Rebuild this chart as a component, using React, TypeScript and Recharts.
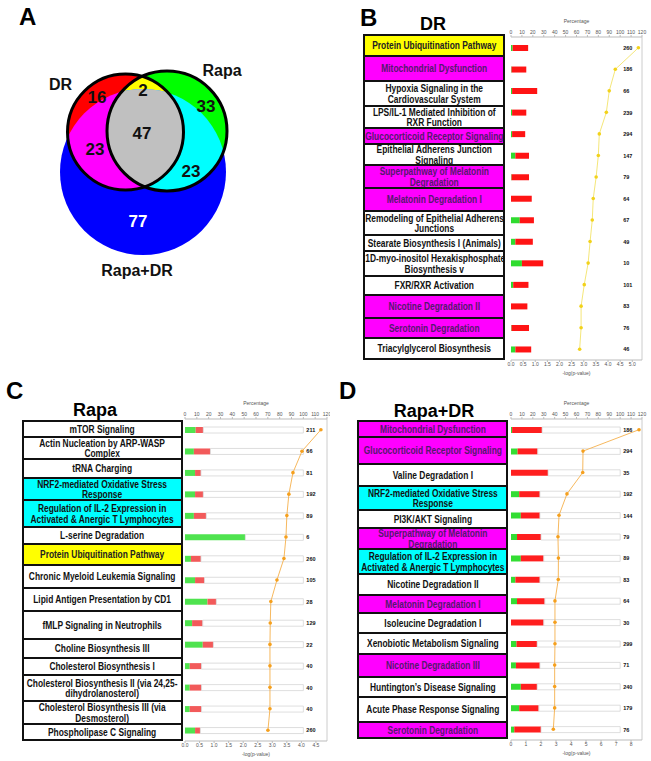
import React from "react";
import {
  Bar,
  ComposedChart,
  LabelList,
  Line,
  ReferenceLine,
  Scatter,
  ScatterChart,
  XAxis,
  YAxis
} from "recharts";

// ---------- A: Venn ----------
const vennSetIds = ["RapaDR", "DR", "Rapa"];
const vennSetLabels = ["Rapa+DR", "DR", "Rapa"];
const vennSetX = [143, 125.5, 167];
const vennSetY = [172, 132, 131];
const vennSetR = [83, 58, 60];
const vennSetLabelPos = [[137, 270], [60.5, 84], [222, 70]];

const vennRegionNames = ["Rapa+DR only", "DR only", "Rapa only", "DR & Rapa", "DR & Rapa+DR", "Rapa & Rapa+DR", "all three"];
const vennRegionCounts = [77, 16, 33, 2, 23, 23, 47];
const vennRegionBase = ["RapaDR", "DR", "Rapa", "DR", "DR", "Rapa", "DR"];
const vennRegionClip = [[], [], [], ["Rapa"], ["RapaDR"], ["RapaDR"], ["Rapa", "RapaDR"]];
const vennRegionLabelPos = [[138, 221], [97, 97], [206, 106], [143, 90], [95, 149], [191, 171], [142, 133]];

// ---------- B: DR ----------
const drNames = [
  "Protein Ubiquitination Pathway",
  "Mitochondrial Dysfunction",
  "Hypoxia Signaling in the\nCardiovascular System",
  "LPS/IL-1 Mediated Inhibition of\nRXR Function",
  "Glucocorticoid Receptor Signaling",
  "Epithelial Adherens Junction\nSignaling",
  "Superpathway of Melatonin\nDegradation",
  "Melatonin Degradation I",
  "Remodeling of Epithelial Adherens\nJunctions",
  "Stearate Biosynthesis I (Animals)",
  "1D-myo-inositol Hexakisphosphate\nBiosynthesis v",
  "FXR/RXR Activation",
  "Nicotine Degradation II",
  "Serotonin Degradation",
  "Triacylglycerol Biosynthesis"
];
const drShared = ["DR+Rapa", "DR+Combo", "", "", "DR+Combo", "", "DR+Combo", "DR+Combo", "", "", "", "", "DR+Combo", "DR+Combo", ""];
const drUp = [1.5, 0.5, 1, 1, 1, 4, 0.5, 0, 8, 4, 10, 2, 0, 0.5, 4];
const drDown = [14.2, 13.5, 23, 13, 12, 12.5, 16, 19, 13, 16, 19.5, 14, 15, 16, 14.5];
const drCount = [260, 186, 66, 239, 294, 147, 79, 64, 67, 49, 10, 101, 83, 76, 46];
const drLogP = [5.25, 4.3, 4.05, 3.93, 3.64, 3.6, 3.51, 3.39, 3.35, 3.26, 3.18, 3.02, 2.89, 2.89, 2.83];

// ---------- C: Rapa ----------
const rapaNames = [
  "mTOR Signaling",
  "Actin Nucleation by ARP-WASP\nComplex",
  "tRNA Charging",
  "NRF2-mediated Oxidative Stress\nResponse",
  "Regulation of IL-2 Expression in\nActivated & Anergic T Lymphocytes",
  "L-serine Degradation",
  "Protein Ubiquitination Pathway",
  "Chronic Myeloid Leukemia Signaling",
  "Lipid Antigen Presentation by CD1",
  "fMLP Signaling in Neutrophils",
  "Choline Biosynthesis III",
  "Cholesterol Biosynthesis I",
  "Cholesterol Biosynthesis II (via 24,25-\ndihydrolanosterol)",
  "Cholesterol Biosynthesis III (via\nDesmosterol)",
  "Phospholipase C Signaling"
];
const rapaShared = ["", "", "", "Rapa+Combo", "Rapa+Combo", "", "DR+Rapa", "", "", "", "", "", "", "", ""];
const rapaUp = [9, 7.5, 8.5, 8.5, 7.5, 51, 5, 8.5, 19, 6, 15, 4, 4, 4, 8.5];
const rapaDown = [6.5, 14, 5, 7, 10.5, 0, 8.5, 8, 7.5, 9, 9, 10, 10, 10, 4.5];
const rapaCount = [211, 66, 81, 192, 89, 6, 260, 105, 28, 129, 22, 40, 40, 40, 260];
const rapaLogP = [4.67, 4.02, 3.71, 3.57, 3.5, 3.47, 3.4, 3.16, 2.95, 2.93, 2.92, 2.92, 2.92, 2.92, 2.85];

// ---------- D: Rapa+DR ----------
const comboNames = [
  "Mitochondrial Dysfunction",
  "Glucocorticoid Receptor Signaling",
  "Valine Degradation I",
  "NRF2-mediated Oxidative Stress\nResponse",
  "PI3K/AKT Signaling",
  "Superpathway of Melatonin\nDegradation",
  "Regulation of IL-2 Expression in\nActivated & Anergic T Lymphocytes",
  "Nicotine Degradation II",
  "Melatonin Degradation I",
  "Isoleucine Degradation I",
  "Xenobiotic Metabolism Signaling",
  "Nicotine Degradation III",
  "Huntington’s Disease Signaling",
  "Acute Phase Response Signaling",
  "Serotonin Degradation"
];
const comboShared = ["DR+Combo", "DR+Combo", "", "Rapa+Combo", "", "DR+Combo", "Rapa+Combo", "", "DR+Combo", "", "", "DR+Combo", "", "", "DR+Combo"];
const comboUp = [1, 6, 0, 7.5, 9, 5.5, 9, 4, 5.5, 0, 5, 4.5, 9, 7.5, 3];
const comboDown = [27.5, 18.5, 34, 19, 17.5, 22, 21, 22.5, 25.5, 30, 19, 22, 15, 18, 24.5];
const comboCount = [186, 294, 35, 192, 144, 79, 89, 83, 64, 30, 299, 71, 240, 179, 76];
const comboLogP = [8.53, 4.8, 4.78, 3.73, 3.2, 3.13, 3.16, 3.15, 2.93, 2.93, 2.93, 2.91, 2.91, 2.91, 2.82];

const pctTicks = [0, 10, 20, 30, 40, 50, 60, 70, 80, 90, 100, 110, 120];

// ---------- styles ----------
const FONT = "'Liberation Sans', Arial, sans-serif";
const sharedFill: Record<string, string> = { "DR+Rapa": "#ffff00", "DR+Combo": "#ff00ff", "Rapa+Combo": "#00ffff", "": "#ffffff" };
const sharedText: Record<string, string> = { "DR+Rapa": "#222", "DR+Combo": "#55186e", "Rapa+Combo": "#111", "": "#111" };
const regionFill: Record<string, string> = {
  "Rapa+DR only": "#0000ff",
  "DR only": "#ff0000",
  "Rapa only": "#00ff00",
  "DR & Rapa": "#ffff00",
  "DR & Rapa+DR": "#ff00ff",
  "Rapa & Rapa+DR": "#00ffff",
  "all three": "#c0c0c0"
};

const buildRows = (names: string[], shared: string[], up: number[], down: number[], count: number[], logp: number[]) =>
  names.map((name, i) => ({
    name,
    shared: shared[i],
    up: up[i],
    down: down[i],
    rest: Math.max(0, 100 - up[i] - down[i]),
    count: count[i],
    logp: logp[i]
  }));

const drRows = buildRows(drNames, drShared, drUp, drDown, drCount, drLogP);
const rapaRows = buildRows(rapaNames, rapaShared, rapaUp, rapaDown, rapaCount, rapaLogP);
const comboRows = buildRows(comboNames, comboShared, comboUp, comboDown, comboCount, comboLogP);

function Venn() {
  const sets = vennSetIds.map((id, i) => ({ id, x: vennSetX[i], y: vennSetY[i], r: vennSetR[i] }));
  const byId = Object.fromEntries(sets.map((s) => [s.id, s]));
  const regions = vennRegionNames.map((name, i) => {
    const base = byId[vennRegionBase[i]];
    return { name, x: base.x, y: base.y, r: base.r, clips: vennRegionClip[i] };
  });
  const counts = vennRegionNames.map((name, i) => ({
    name,
    x: vennRegionLabelPos[i][0],
    y: vennRegionLabelPos[i][1],
    text: String(vennRegionCounts[i]),
    size: 17,
    color: name === "Rapa+DR only" ? "#fff" : "#111"
  }));
  const setLabels = vennSetLabels.map((label, i) => ({
    x: vennSetLabelPos[i][0],
    y: vennSetLabelPos[i][1],
    text: label,
    size: 16,
    color: "#111"
  }));
  const outlines = sets.filter((s) => s.id !== "RapaDR");

  const textShape = (p: any) => (
    <text
      x={p.cx}
      y={p.cy}
      textAnchor="middle"
      dominantBaseline="central"
      fontFamily={FONT}
      fontWeight={700}
      fontSize={p.payload.size}
      fill={p.payload.color}
    >
      {p.payload.text}
    </text>
  );

  return (
    <ScatterChart width={260} height={290} margin={{ top: 0, right: 0, bottom: 0, left: 0 }}>
      <XAxis type="number" dataKey="x" domain={[0, 260]} hide />
      <YAxis type="number" dataKey="y" domain={[0, 290]} reversed hide />
      <Scatter
        data={sets}
        isAnimationActive={false}
        shape={(p: any) => (
          <clipPath id={`venn-${p.payload.id}`}>
            <circle cx={p.cx} cy={p.cy} r={p.payload.r} />
          </clipPath>
        )}
      />
      <Scatter
        data={regions}
        isAnimationActive={false}
        shape={(p: any) => {
          let node = <circle cx={p.cx} cy={p.cy} r={p.payload.r} fill={regionFill[p.payload.name]} />;
          for (const c of p.payload.clips) node = <g clipPath={`url(#venn-${c})`}>{node}</g>;
          return node;
        }}
      />
      <Scatter
        data={outlines}
        isAnimationActive={false}
        shape={(p: any) => <circle cx={p.cx} cy={p.cy} r={p.payload.r} fill="none" stroke="#000" strokeWidth={3} />}
      />
      <Scatter data={counts} isAnimationActive={false} shape={textShape} />
      <Scatter data={setLabels} isAnimationActive={false} shape={textShape} />
    </ScatterChart>
  );
}

type Row = ReturnType<typeof buildRows>[number];

function PathwayTable({ rows, heights, left, top, width }: { rows: Row[]; heights: number[]; left: number; top: number; width: number }) {
  let y = 0;
  return (
    <div style={{ position: "absolute", left, top, width }}>
      {rows.map((r, i) => {
        const t = y;
        y += heights[i];
        return (
          <div
            key={i}
            style={{
              position: "absolute",
              left: 0,
              top: t,
              width,
              height: heights[i] + 2,
              boxSizing: "border-box",
              border: "2px solid #111",
              background: sharedFill[r.shared],
              display: "flex",
              alignItems: "center",
              justifyContent: "center",
              overflow: "hidden"
            }}
          >
            <div
              style={{
                width: (width - 4) / 0.8,
                flexShrink: 0,
                transform: "scaleX(0.8)",
                transformOrigin: "center",
                textAlign: "center",
                whiteSpace: "pre",
                fontFamily: FONT,
                fontWeight: 700,
                fontSize: 10.5,
                lineHeight: "10.5px",
                color: sharedText[r.shared]
              }}
            >
              {r.name}
            </div>
          </div>
        );
      })}
    </div>
  );
}

type ChartProps = {
  rows: Row[];
  left: number;
  top: number;
  width: number;
  height: number;
  right: number;
  logMax: number;
  logTicks: number[];
  logDigits: number;
  lineColor: string;
  dotColor: string;
  green: string;
  red: string;
  showRest: boolean;
};

function PathwayChart(p: ChartProps) {
  const axisTick = { fontSize: 5, fill: "#555", fontFamily: FONT };
  return (
    <div style={{ position: "absolute", left: p.left, top: p.top }}>
      <ComposedChart
        layout="vertical"
        width={p.width}
        height={p.height}
        data={p.rows}
        margin={{ top: 7, right: p.right, bottom: 4, left: 11 }}
      >
        <YAxis type="category" dataKey="name" hide />
        <XAxis
          xAxisId="pct"
          type="number"
          orientation="top"
          domain={[0, 120]}
          ticks={pctTicks}
          interval={0}
          height={20}
          tick={axisTick}
          tickSize={2}
          tickMargin={1}
          axisLine={{ stroke: "#bbb" }}
          tickLine={{ stroke: "#bbb" }}
          label={{ value: "Percentage", position: "insideTop", offset: 2, fontSize: 5, fill: "#555", fontFamily: FONT }}
        />
        <XAxis
          xAxisId="log"
          type="number"
          orientation="bottom"
          domain={[0, p.logMax]}
          ticks={p.logTicks}
          interval={0}
          height={16}
          tick={axisTick}
          tickSize={2}
          tickMargin={0}
          tickFormatter={(v: number) => v.toFixed(p.logDigits)}
          axisLine={{ stroke: "#bbb" }}
          tickLine={{ stroke: "#bbb" }}
          label={{ value: "-log(p-value)", position: "insideBottom", offset: 1, fontSize: 5, fill: "#555", fontFamily: FONT }}
        />
        <ReferenceLine xAxisId="log" x={p.logMax} stroke="#ccc" />
        <Bar xAxisId="pct" dataKey="up" stackId="s" fill={p.green} barSize={6} isAnimationActive={false} />
        <Bar xAxisId="pct" dataKey="down" stackId="s" fill={p.red} barSize={6} isAnimationActive={false} />
        <Bar
          xAxisId="pct"
          dataKey="rest"
          stackId="s"
          fill={p.showRest ? "#fff" : "none"}
          stroke={p.showRest ? "#d6d6d6" : "none"}
          strokeWidth={0.8}
          barSize={6}
          isAnimationActive={false}
        >
          <LabelList dataKey="count" position="right" offset={3} fontSize={5.5} fontWeight={700} fill="#111" fontFamily={FONT} />
        </Bar>
        <Line
          xAxisId="log"
          dataKey="logp"
          stroke={p.lineColor}
          strokeWidth={0.9}
          dot={{ r: 1.8, fill: p.dotColor, stroke: "none" }}
          isAnimationActive={false}
        />
      </ComposedChart>
    </div>
  );
}

function Abs({ left, top, width, size, children, align = "left" }: any) {
  return (
    <div
      style={{
        position: "absolute",
        left,
        top,
        width,
        textAlign: align,
        fontFamily: FONT,
        fontWeight: 700,
        fontSize: size,
        lineHeight: `${size}px`,
        color: "#000"
      }}
    >
      {children}
    </div>
  );
}

const halfTicks = (max: number) => Array.from({ length: max * 2 + 1 }, (_, i) => i / 2);

export default function App() {
  return (
    <div style={{ position: "absolute", left: 0, top: 0, width: 651, height: 761, background: "#fff", overflow: "hidden" }}>
      <div style={{ position: "absolute", left: 0, top: 0 }}>
        <Venn />
      </div>

      <Abs left={19} top={5} size={24}>A</Abs>
      <Abs left={360} top={6} size={24}>B</Abs>
      <Abs left={6} top={379} size={24}>C</Abs>
      <Abs left={339} top={379} size={24}>D</Abs>

      <Abs left={333} top={15} width={200} size={18} align="center">DR</Abs>
      <Abs left={-5} top={401} width={200} size={18} align="center">Rapa</Abs>
      <Abs left={334} top={402} width={200} size={18} align="center">Rapa+DR</Abs>

      <PathwayTable rows={drRows} heights={[21, 25, 25, 22, 16, 21, 23, 23, 24, 16, 25, 19, 23, 20, 21]} left={363} top={34} width={142} />
      <PathwayChart
        rows={drRows}
        left={500}
        top={10}
        width={151}
        height={370}
        right={9}
        logMax={5.4}
        logTicks={halfTicks(5)}
        logDigits={1}
        lineColor="#f3e36a"
        dotColor="#f2d21a"
        green="#2fdc2f"
        red="#ff1414"
        showRest={false}
      />

      <PathwayTable rows={rapaRows} heights={[16, 22, 19, 22, 27, 17, 21, 23, 23, 28, 19, 17, 26, 23, 16]} left={22} top={420} width={161} />
      <PathwayChart
        rows={rapaRows}
        left={174}
        top={392}
        width={156}
        height={369}
        right={3}
        logMax={4.88}
        logTicks={[0, 0.5, 1, 1.5, 2, 2.5, 3, 3.5, 4, 4.5]}
        logDigits={1}
        lineColor="#f5b04c"
        dotColor="#f5a01e"
        green="#4fe34f"
        red="#f25a5a"
        showRest={true}
      />

      <PathwayTable rows={comboRows} heights={[16, 27, 22, 24, 18, 21, 25, 21, 18, 20, 21, 23, 20, 25, 16]} left={357} top={420} width={151} />
      <PathwayChart
        rows={comboRows}
        left={500}
        top={392}
        width={151}
        height={368}
        right={9}
        logMax={8.73}
        logTicks={[0, 1, 2, 3, 4, 5, 6, 7, 8]}
        logDigits={0}
        lineColor="#f5b04c"
        dotColor="#f5a01e"
        green="#33dd33"
        red="#ff1f1f"
        showRest={true}
      />
    </div>
  );
}
